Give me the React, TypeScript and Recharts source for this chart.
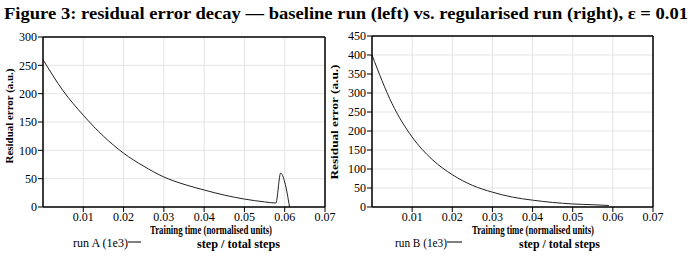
import React from 'react';
import { LineChart, Line, XAxis, YAxis, CartesianGrid, ReferenceLine } from 'recharts';

// values, x in tick units (0..7)
const leftX = [0, 0.5, 1, 1.5, 2, 2.5, 3, 3.5, 4, 4.5, 5, 5.5, 5.78, 5.9, 6.0, 6.12];
const leftY = [260, 205, 162, 125, 95, 72, 53, 40, 30, 21, 14, 9, 7, 60, 44, 0];

const rightX = [0, 0.5, 1, 1.5, 2, 2.5, 3, 3.5, 4, 4.5, 5, 5.5, 5.9];
const rightY = [400, 272, 184, 125, 85, 57, 39, 26, 18, 12, 8, 6, 4];

const xTicks = [1, 2, 3, 4, 5, 6, 7];
const xTickLabels = ['0.01', '0.02', '0.03', '0.04', '0.05', '0.06', '0.07'];
const leftYTicks = [0, 50, 100, 150, 200, 250, 300];
const rightYTicks = [0, 50, 100, 150, 200, 250, 300, 350, 400, 450];

const titleText = 'Figure 3: residual error decay — baseline run (left) vs. regularised run (right), ε = 0.01';
const yLabelText = 'Residual error (a.u.)';
const xLabelLine1 = 'Training time (normalised units)';
const xLabelLine2 = 'step / total steps';
const leftLegend = 'run A (1e3)';
const rightLegend = 'run B (1e3)';

const font = 'Liberation Serif';
const tickStyle = { fontSize: 12, fill: '#000', fontFamily: font };

const toRows = (xs: number[], ys: number[]) => xs.map((x, i) => ({ x, y: ys[i] }));

interface PanelProps {
  data: { x: number; y: number }[];
  yTicks: number[];
  left: number;
  top: number;
  marginRight: number;
  yWidth: number;
}

const Panel: React.FC<PanelProps> = ({ data, yTicks, left, top, marginRight, yWidth }) => {
  const yMax = yTicks[yTicks.length - 1];
  return (
    <div style={{ position: 'absolute', left, top: 0 }}>
      <LineChart width={340} height={262} data={data} margin={{ top, right: marginRight, bottom: 25, left: 0 }}>
        <CartesianGrid stroke="#e4e4e4" strokeWidth={1} />
        <XAxis
          dataKey="x"
          type="number"
          domain={[0, 7]}
          ticks={xTicks}
          interval={0}
          height={30}
          tick={tickStyle}
          tickFormatter={(v: number) => xTickLabels[xTicks.indexOf(v)] ?? ''}
          axisLine={{ stroke: '#000', strokeWidth: 1.5 }}
          tickLine={{ stroke: '#000' }}
          tickSize={5}
          tickMargin={0}
        />
        <YAxis
          type="number"
          domain={[0, yMax]}
          ticks={yTicks}
          interval={0}
          width={yWidth}
          tick={tickStyle}
          axisLine={{ stroke: '#000', strokeWidth: 1.5 }}
          tickLine={{ stroke: '#000' }}
          tickSize={5}
          tickMargin={1}
        />
        <ReferenceLine y={yMax} stroke="#000" strokeWidth={1.5} />
        <ReferenceLine x={7} stroke="#000" strokeWidth={1.5} />
        <Line type="monotone" dataKey="y" stroke="#222" strokeWidth={1} dot={false} isAnimationActive={false} />
      </LineChart>
    </div>
  );
};

const App: React.FC = () => {
  const textProps = { fontFamily: font, fill: '#000', lengthAdjust: 'spacingAndGlyphs' as const };
  return (
    <div style={{ position: 'absolute', left: 0, top: 0, width: 697, height: 262, background: '#fff' }}>
      <Panel data={toRows(leftX, leftY)} yTicks={leftYTicks} left={0} top={37} marginRight={15} yWidth={43} />
      <Panel data={toRows(rightX, rightY)} yTicks={rightYTicks} left={330} top={36} marginRight={17} yWidth={42} />
      <svg width={697} height={262} style={{ position: 'absolute', left: 0, top: 0, pointerEvents: 'none' }}>
        <text x={4} y={19} fontSize={17} fontWeight="bold" textLength={684} {...textProps}>{titleText}</text>

        <text transform="translate(13,116) rotate(-90)" textAnchor="middle" fontSize={11} fontWeight="bold" textLength={95} {...textProps}>{yLabelText}</text>
        <text transform="translate(338,122) rotate(-90)" textAnchor="middle" fontSize={11} fontWeight="bold" textLength={115} {...textProps}>{yLabelText}</text>

        <text x={150} y={234} fontSize={12} fontWeight="bold" textLength={122} {...textProps}>{xLabelLine1}</text>
        <text x={197} y={248} fontSize={12} fontWeight="bold" textLength={83} {...textProps}>{xLabelLine2}</text>
        <text x={472} y={234} fontSize={12} fontWeight="bold" textLength={122} {...textProps}>{xLabelLine1}</text>
        <text x={519} y={248} fontSize={12} fontWeight="bold" textLength={81} {...textProps}>{xLabelLine2}</text>

        <text x={73} y={247} fontSize={13} textLength={55} {...textProps}>{leftLegend}</text>
        <line x1={128} x2={141} y1={242} y2={242} stroke="#000" />
        <text x={395} y={247} fontSize={13} textLength={52} {...textProps}>{rightLegend}</text>
        <line x1={447} x2={462} y1={242} y2={242} stroke="#000" />
      </svg>
    </div>
  );
};

export default App;
